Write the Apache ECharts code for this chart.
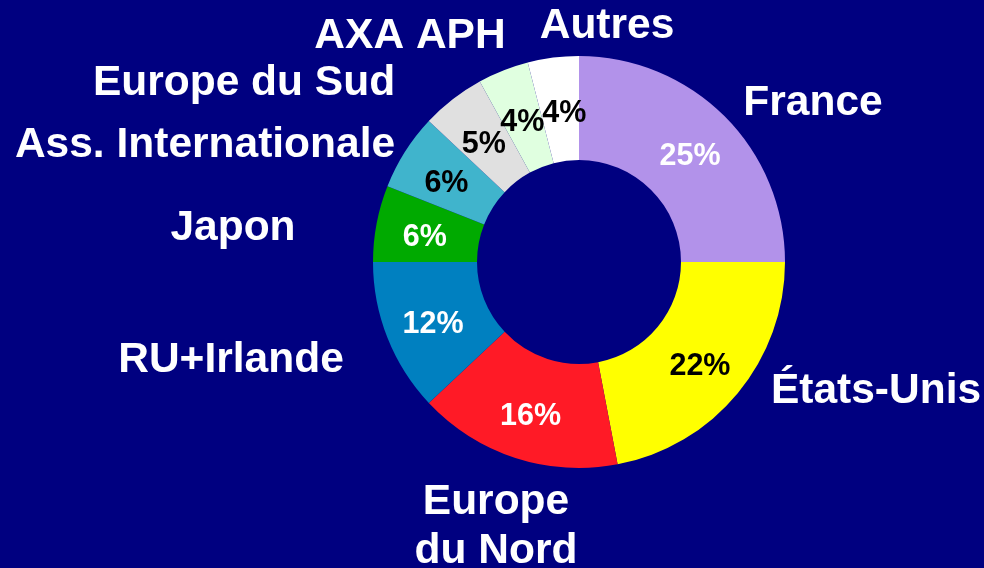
<!DOCTYPE html>
<html>
<head>
<meta charset="utf-8">
<script src="https://cdn.jsdelivr.net/npm/echarts@6/dist/echarts.min.js"></script>
<style>
  html, body { margin: 0; padding: 0; background: #000080; }
  #chart { width: 984px; height: 568px; }
</style>
</head>
<body>
<div id="chart"></div>
<script>
// Data
const categories = ['France', 'États-Unis', 'Europe\ndu Nord', 'RU+Irlande', 'Japon', 'Ass. Internationale', 'Europe du Sud', 'AXA APH', 'Autres'];
const shares = [25, 22, 16, 12, 6, 6, 5, 4, 4];

// Styles
const sliceColors = ['#B292EA', '#FFFF00', '#FF1A26', '#0080C0', '#00AA00', '#40B4CC', '#E0E0E0', '#E0FFE0', '#FFFFFF'];
const pctColors = ['#FFFFFF', '#000000', '#FFFFFF', '#FFFFFF', '#FFFFFF', '#000000', '#000000', '#000000', '#000000'];
const namePos = [[813, 103], [876, 391], [496, 527], [231, 360], [233, 228], [205, 145], [244, 83], [410, 36], [607, 26]];
const pctShift = [[0, 6], [0, 5], [0, 5], [0, 5], [0, 5], [0, 6], [1, 7], [1, 7], [5, 7]];

const FONT = '"Liberation Sans", Arial, Helvetica, sans-serif';
const center = [579, 262];
const radius = [102, 206];

const chart = echarts.init(document.getElementById('chart'), null, { renderer: 'canvas' });

chart.setOption({
  backgroundColor: '#000080',
  animation: false,
  series: [
    {
      type: 'pie',
      center: center,
      radius: radius,
      startAngle: 90,
      clockwise: true,
      avoidLabelOverlap: false,
      data: categories.map((n, i) => ({
        name: n,
        value: shares[i],
        itemStyle: { color: sliceColors[i] },
        label: { color: pctColors[i] }
      })),
      label: {
        show: true,
        position: 'inside',
        formatter: p => p.value + '%',
        fontFamily: FONT,
        fontWeight: 'bold',
        fontSize: 30.5
      },
      labelLine: { show: false },
      labelLayout: p => ({
        hideOverlap: false,
        dx: pctShift[p.dataIndex][0],
        dy: pctShift[p.dataIndex][1]
      }),
      emphasis: { disabled: true }
    },
    {
      type: 'pie',
      center: center,
      radius: radius,
      startAngle: 90,
      clockwise: true,
      silent: true,
      avoidLabelOverlap: false,
      data: categories.map((n, i) => ({ name: n, value: shares[i] })),
      itemStyle: { color: 'rgba(0,0,0,0)' },
      label: {
        show: true,
        position: 'outside',
        formatter: p => p.name,
        color: '#FFFFFF',
        fontFamily: FONT,
        fontWeight: 'bold',
        fontSize: 42.5,
        lineHeight: 49,
        align: 'center'
      },
      labelLine: { show: false },
      labelLayout: p => ({
        x: namePos[p.dataIndex][0],
        y: namePos[p.dataIndex][1],
        align: 'center',
        verticalAlign: 'middle',
        hideOverlap: false
      }),
      emphasis: { disabled: true }
    }
  ]
});
</script>
</body>
</html>
